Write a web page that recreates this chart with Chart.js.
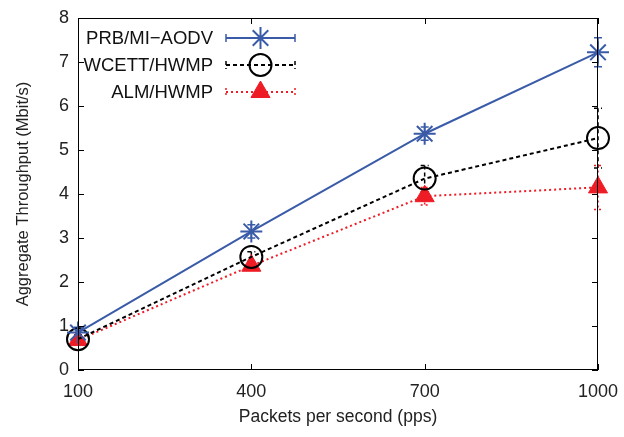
<!DOCTYPE html>
<html><head><meta charset="utf-8">
<script src="https://cdn.jsdelivr.net/npm/chart.js@4"></script>
<style>html,body{margin:0;padding:0;background:#fff}</style>
</head><body>
<canvas id="c" width="624" height="437"></canvas>
<script>
const xValues = [100, 400, 700, 1000];
const seriesNames = ['PRB/MI\u2212AODV', 'WCETT/HWMP', 'ALM/HWMP'];
const prbValues = [0.85, 3.15, 5.37, 7.22];
const prbErrors = [0.12, 0.15, 0.15, 0.33];
const wcettValues = [0.70, 2.57, 4.35, 5.27];
const wcettErrors = [0.10, 0.12, 0.30, 0.68];
const almValues = [0.68, 2.37, 3.95, 4.15];
const almErrors = [0.08, 0.10, 0.20, 0.50];
const yTicks = [0, 1, 2, 3, 4, 5, 6, 7, 8];

const FONT = 'Liberation Sans, Arial, sans-serif';
const styles = [
  {color:'#3a5ba8', dash:[], style:'star', radius:11, fill:false, bw:2},
  {color:'#000000', dash:[4,3], style:'circle', radius:11, fill:false, bw:2},
  {color:'#ee1c25', dash:[2,3], style:'triangle', radius:11, fill:true, bw:1}
];
const vals = [prbValues, wcettValues, almValues];
const errs = [prbErrors, wcettErrors, almErrors];

const datasets = vals.map((v,i)=>({
  label: seriesNames[i],
  data: xValues.map((x,j)=>({x:x, y:v[j]})),
  errors: errs[i],
  borderColor: styles[i].color,
  backgroundColor: styles[i].fill ? styles[i].color : 'rgba(0,0,0,0)',
  borderWidth: 2,
  borderDash: styles[i].dash,
  pointStyle: styles[i].style,
  pointRadius: styles[i].radius,
  pointBorderWidth: styles[i].bw,
  pointBorderColor: styles[i].color,
  pointBackgroundColor: styles[i].fill ? styles[i].color : 'rgba(0,0,0,0)',
  tension: 0,
  clip: false
}));

function drawMarker(ctx, st, x, y) {
  ctx.save();
  ctx.setLineDash([]);
  Chart.helpers.drawPoint(ctx, {pointStyle: st.style, radius: st.radius, rotation: 0, borderWidth: st.bw}, x, y);
  ctx.restore();
}

const framePlugin = {
  id: 'frame',
  beforeDatasetsDraw(chart) {
    const ctx = chart.ctx, xs = chart.scales.x, ys = chart.scales.y;
    chart.data.datasets.forEach((ds, i) => {
      ctx.save();
      ctx.strokeStyle = ds.borderColor;
      ctx.lineWidth = 1.5;
      ctx.setLineDash(ds.borderDash);
      ds.data.forEach((p, j) => {
        const e = ds.errors[j];
        const px = xs.getPixelForValue(p.x);
        const y1 = ys.getPixelForValue(p.y + e), y2 = ys.getPixelForValue(p.y - e);
        ctx.beginPath();
        ctx.moveTo(px, y1); ctx.lineTo(px, y2);
        ctx.moveTo(px-4, y1); ctx.lineTo(px+4, y1);
        ctx.moveTo(px-4, y2); ctx.lineTo(px+4, y2);
        ctx.stroke();
      });
      ctx.restore();
    });
  },
  afterDraw(chart) {
    const ctx = chart.ctx, xs = chart.scales.x, ys = chart.scales.y, a = chart.chartArea;
    ctx.save();
    ctx.strokeStyle = '#000';
    ctx.lineWidth = 1;
    ctx.setLineDash([]);
    ctx.strokeRect(a.left+0.5, a.top+0.5, a.right-a.left-1, a.bottom-a.top-1);
    const tl = 6;
    ctx.beginPath();
    yTicks.forEach(v => {
      const py = Math.round(ys.getPixelForValue(v)) + 0.5;
      ctx.moveTo(a.left, py); ctx.lineTo(a.left+tl, py);
      ctx.moveTo(a.right, py); ctx.lineTo(a.right-tl, py);
    });
    xValues.forEach(v => {
      const px = Math.round(xs.getPixelForValue(v)) + 0.5;
      ctx.moveTo(px, a.bottom); ctx.lineTo(px, a.bottom-tl);
      ctx.moveTo(px, a.top); ctx.lineTo(px, a.top+tl);
    });
    ctx.stroke();
    ctx.font = '18.5px ' + FONT;
    ctx.textAlign = 'right';
    ctx.textBaseline = 'middle';
    chart.data.datasets.forEach((ds, i) => {
      const ly = a.top + 20 + i * 27;
      const tx = a.left + 135;
      ctx.fillStyle = '#111';
      ctx.fillText(ds.label, tx, ly + 1);
      const x1 = tx + 13, x2 = tx + 82;
      ctx.save();
      ctx.strokeStyle = ds.borderColor;
      ctx.lineWidth = 2;
      ctx.setLineDash(ds.borderDash);
      ctx.beginPath();
      ctx.moveTo(x1, ly); ctx.lineTo(x2, ly);
      ctx.stroke();
      ctx.lineWidth = 1.5;
      ctx.beginPath();
      ctx.moveTo(x1, ly-4); ctx.lineTo(x1, ly+4);
      ctx.moveTo(x2, ly-4); ctx.lineTo(x2, ly+4);
      ctx.stroke();
      ctx.strokeStyle = ds.borderColor;
      ctx.fillStyle = ds.pointBackgroundColor;
      ctx.lineWidth = ds.pointBorderWidth;
      drawMarker(ctx, styles[i], (x1+x2)/2, ly);
      ctx.restore();
    });
    ctx.restore();
  }
};

new Chart(document.getElementById('c'), {
  type: 'line',
  data: { datasets },
  options: {
    responsive: false,
    animation: false,
    layout: { padding: { top: 18, right: 26, left: 0, bottom: 0 } },
    plugins: { legend: { display: false }, tooltip: { enabled: false } },
    scales: {
      x: {
        type: 'linear', min: 100, max: 1000,
        afterBuildTicks: s => { s.ticks = xValues.map(v => ({value: v})); },
        afterFit: s => { s.height = 67; s.paddingRight = 0; s.paddingLeft = 0; },
        grid: { display: false, drawTicks: false },
        border: { display: false },
        ticks: { font: { family: FONT, size: 18 }, color: '#222', padding: 11, maxRotation: 0, callback: v => String(v) },
        title: { display: true, text: 'Packets per second (pps)', font: { family: FONT, size: 17.5 }, color: '#222', padding: { top: 2, bottom: 9 } }
      },
      y: {
        min: 0, max: 8,
        afterBuildTicks: s => { s.ticks = yTicks.map(v => ({value: v})); },
        afterFit: s => { s.width = 78; s.paddingTop = 0; s.paddingBottom = 0; },
        grid: { display: false, drawTicks: false },
        border: { display: false },
        ticks: { font: { family: FONT, size: 18 }, color: '#222', padding: 9 },
        title: { display: true, text: 'Aggregate Throughput (Mbit/s)', font: { family: FONT, size: 16.5 }, color: '#222', padding: { top: 14, bottom: 0 } }
      }
    }
  },
  plugins: [framePlugin]
});
</script>
</body></html>
